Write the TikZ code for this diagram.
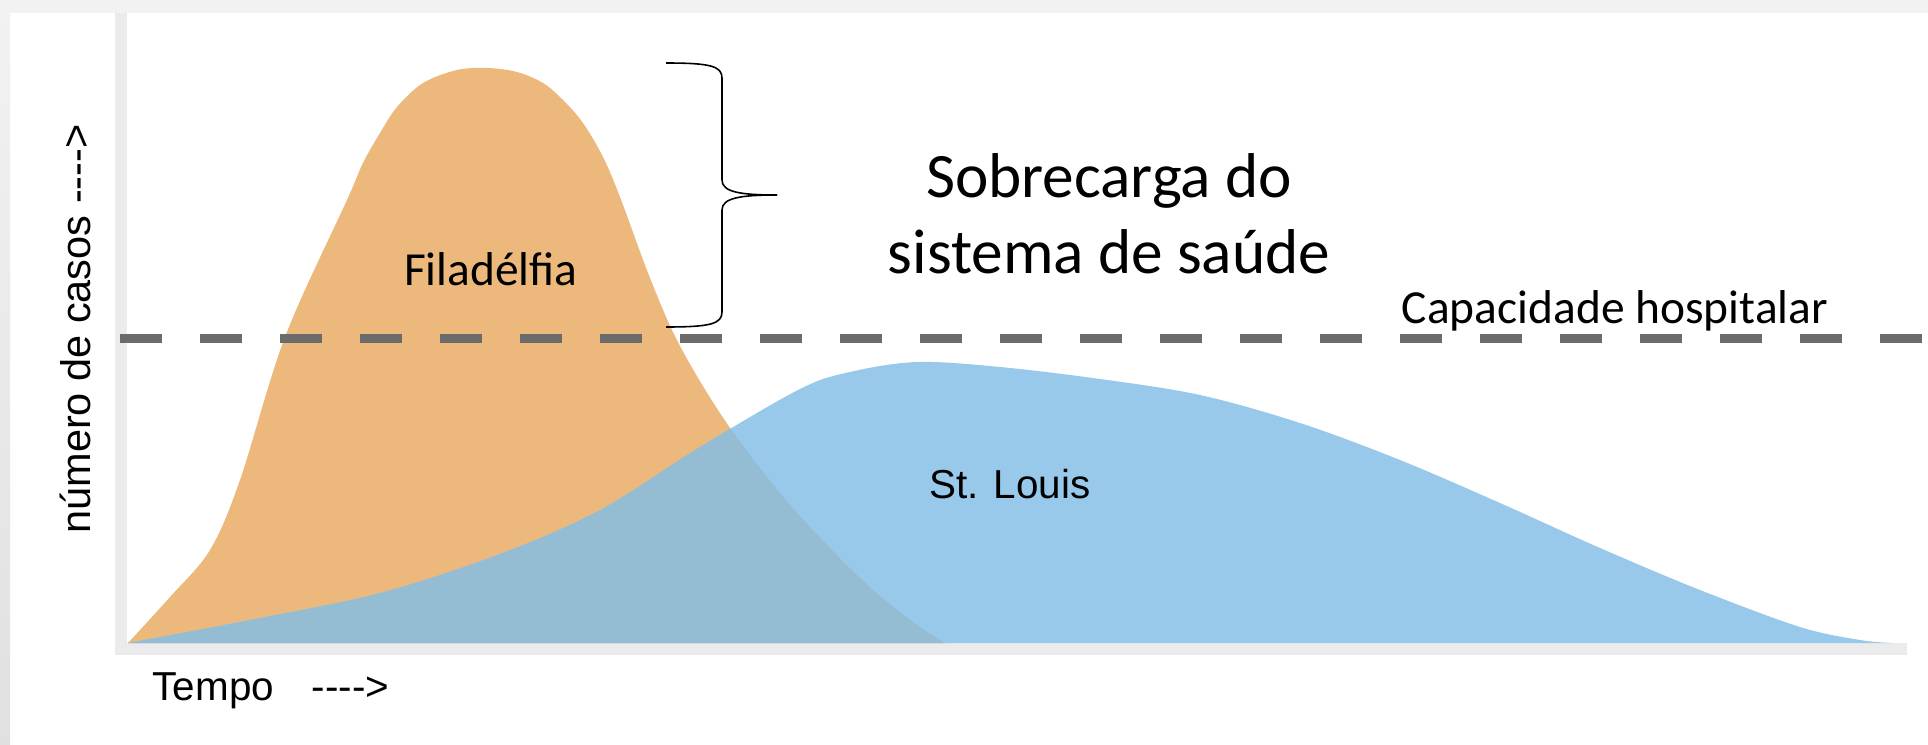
\documentclass[tikz,border=0pt]{standalone}
\usepackage{fontspec}
\setmainfont{Carlito}
\newfontfamily\arialfont{Liberation Sans}
\usepackage{tikz}

\definecolor{filacolor}{HTML}{EDB87B}
\definecolor{louiscolor}{HTML}{98C9EA}
\definecolor{bothcolor}{HTML}{94BCD3}
\definecolor{axiscolor}{HTML}{EBEBEB}
\definecolor{dashcolor}{HTML}{6B6B6B}
\definecolor{framecolor}{HTML}{F2F2F2}

\newcommand{\arrowdashes}{\hbox{-}\hbox{-}\hbox{-}\hbox{-}>}
\newcommand{\filapath}{plot[smooth, tension=0.55] coordinates {(1.28,1.01) (1.70,1.47) (2.10,1.94) (2.40,2.64) (2.85,4.07) (3.47,5.44) (3.63,5.81) (3.80,6.11) (3.97,6.37) (4.23,6.61) (4.57,6.74) (4.87,6.76) (5.17,6.72) (5.43,6.61) (5.63,6.44) (5.83,6.21) (6.03,5.87) (6.20,5.47) (6.50,4.66) (6.80,3.98) (7.28,3.19) (7.90,2.39) (8.60,1.66) (9.10,1.24) (9.45,1.01)} -- cycle}
\newcommand{\louispath}{plot[smooth, tension=0.55] coordinates {(1.28,1.01) (2.50,1.24) (3.80,1.51) (5.00,1.90) (6.00,2.34) (7.00,2.97) (8.00,3.55) (8.50,3.72) (9.17,3.82) (10.00,3.77) (11.00,3.65) (12.00,3.49) (13.00,3.21) (14.00,2.84) (15.00,2.41) (16.00,1.96) (17.00,1.54) (18.00,1.17) (18.60,1.04) (18.93,1.01)} -- cycle}

\begin{document}
\begin{tikzpicture}
            \tikzstyle{every node}=[font=\normalsize, inner sep=0pt]
            \tikzstyle{axisline}=[axiscolor, line width=0.12cm]
            \tikzstyle{capline}=[dashcolor, line width=0.09cm, dash pattern=on 0.42cm off 0.38cm]
            \tikzstyle{bracestroke}=[black, line width=0.45pt]
            \tikzstyle{calibritext}=[font=\fontsize{13.5}{16}\selectfont, anchor=base]
            \tikzstyle{bigtext}=[font=\fontsize{18}{21.6}\selectfont, anchor=base]
            \tikzstyle{arialtext}=[font=\arialfont\fontsize{11.5}{14}\selectfont, anchor=base]
            \useasboundingbox (0,0) rectangle (19.28,7.44);
            \fill[white] (0,0) rectangle (19.28,7.44);
            \fill[framecolor] (0,7.31) rectangle (19.28,7.44);
            \shade[top color=framecolor, bottom color=black!12] (0,0) rectangle (0.10,7.44);
            \draw[axisline] (1.21,7.31) -- (1.21,0.89);
            \draw[axisline] (1.15,0.95) -- (19.07,0.95);
            \fill[filacolor] \filapath;
            \fill[louiscolor] \louispath;
            \begin{scope}
                \clip \filapath;
                \fill[bothcolor] \louispath;
            \end{scope}
            \draw[capline] (1.20,4.06) -- (19.28,4.06);
            \draw[bracestroke] (6.66,6.81) .. controls (7.10,6.81) and (7.22,6.78) .. (7.22,6.66) -- (7.22,5.64) .. controls (7.22,5.52) and (7.40,5.49) .. (7.77,5.49);
            \draw[bracestroke] (7.77,5.49) .. controls (7.40,5.49) and (7.22,5.46) .. (7.22,5.34) -- (7.22,4.32) .. controls (7.22,4.20) and (7.10,4.17) .. (6.66,4.17);
            \node[bigtext] (sobrecarga) at (11.09,5.47) {Sobrecarga do};
            \node[bigtext] (sistema) at (11.09,4.71) {sistema de saúde};
            \node[calibritext] (capacidade) at (16.15,4.21) {Capacidade hospitalar};
            \node[calibritext] (filadelfia) at (4.91,4.59) {Filadélfia};
            \node[arialtext] (stlouis) at (10.10,2.46) {St. Louis};
            \node[arialtext, anchor=base west] (tempo) at (1.52,0.44) {Tempo\hspace{0.38cm}\arrowdashes};
            \node[arialtext, font=\arialfont\fontsize{11.8}{14}\selectfont, rotate=90] (casos) at (0.90,4.15) {número de casos \arrowdashes};
        \end{tikzpicture}
\end{document}
